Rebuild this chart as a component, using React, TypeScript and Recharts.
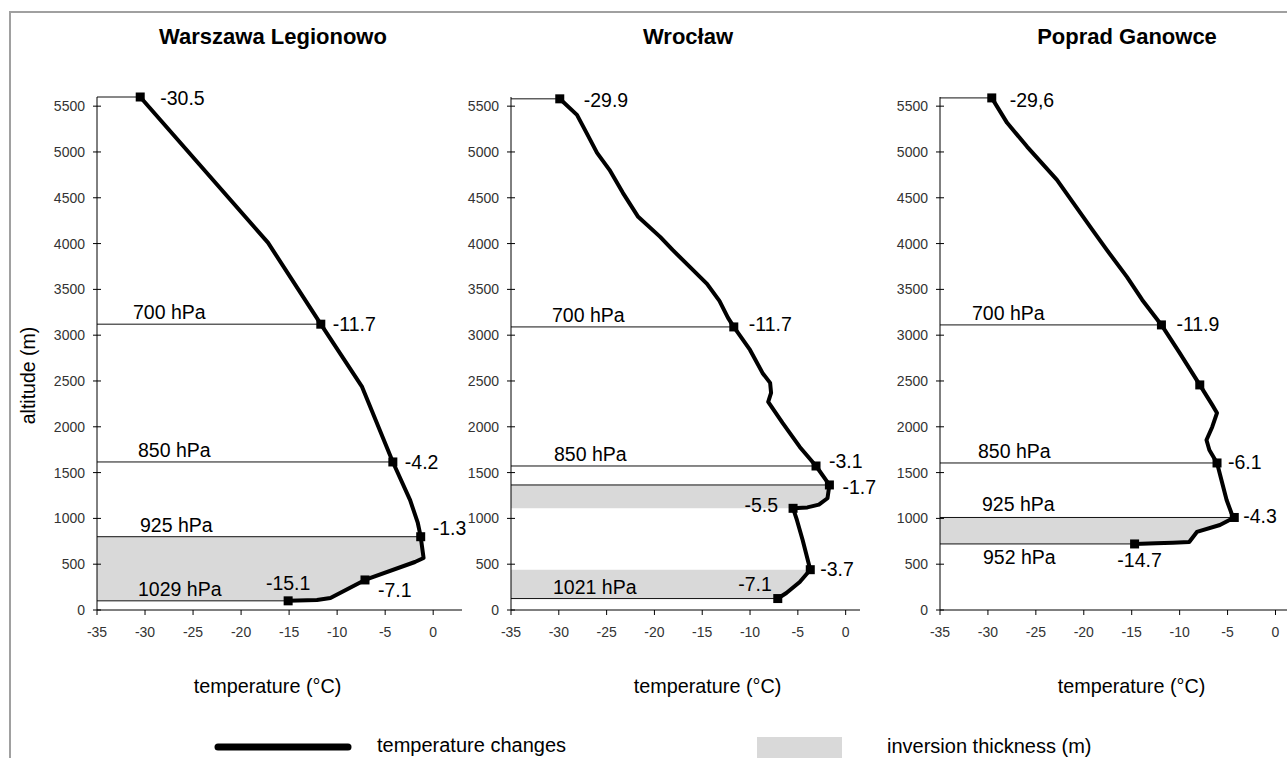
import React from "react";
import { ComposedChart, Line, Area, XAxis, YAxis, ReferenceLine } from "recharts";

const xTicks = [-35, -30, -25, -20, -15, -10, -5, 0];
const yTicks = [0, 500, 1000, 1500, 2000, 2500, 3000, 3500, 4000, 4500, 5000, 5500];

// Warszawa Legionowo
const waAlt = [5600, 4010, 3120, 2435, 1616, 1200, 950, 800, 568, 524, 328, 131, 109, 100];
const waTemp = [-30.5, -17.2, -11.7, -7.4, -4.2, -2.4, -1.6, -1.3, -1.0, -1.9, -7.1, -10.7, -12.1, -15.1];
const waMark = ["-30.5", null, "-11.7", null, "-4.2", null, null, "-1.3", null, null, "-7.1", null, null, "-15.1"];
const waBands = [[100, 800]];
const waLevelName = ["", "700 hPa", "850 hPa", "925 hPa", "1029 hPa"];
const waLevelAlt = [5600, 3120, 1616, 800, 100];
const waLevelTemp = [-30.5, -11.7, -4.2, -1.3, -15.1];

// Wrocław
const wrAlt = [5580, 5405, 5209, 4990, 4805, 4554, 4292, 4073, 3931, 3745, 3560, 3374, 3189, 3090, 2839, 2588, 2479, 2370, 2271, 2042, 1780, 1572, 1365, 1220, 1150, 1120, 1110, 983, 764, 440, 306, 186, 125];
const wrTemp = [-29.9, -28.1, -27.1, -26.0, -24.7, -23.3, -21.7, -19.4, -18.1, -16.3, -14.5, -13.2, -12.3, -11.7, -10.0, -8.7, -7.9, -7.8, -8.1, -6.6, -4.8, -3.1, -1.7, -1.9, -2.8, -4.0, -5.5, -5.1, -4.5, -3.7, -4.8, -6.2, -7.1];
const wrMark = ["-29.9", null, null, null, null, null, null, null, null, null, null, null, null, "-11.7", null, null, null, null, null, null, null, "-3.1", "-1.7", null, null, null, "-5.5", null, null, "-3.7", null, null, "-7.1"];
const wrBands = [[1110, 1365], [125, 440]];
const wrLevelName = ["", "700 hPa", "850 hPa", "", "1021 hPa"];
const wrLevelAlt = [5580, 3090, 1572, 1365, 125];
const wrLevelTemp = [-29.9, -11.7, -3.1, -1.7, -7.1];

// Poprad Ganowce
const pgAlt = [5590, 5318, 5056, 4696, 4444, 4150, 3931, 3636, 3385, 3112, 2806, 2457, 2239, 2151, 1998, 1856, 1747, 1605, 1201, 1059, 1010, 928, 852, 743, 735, 728, 721];
const pgTemp = [-29.6, -28.0, -25.9, -22.8, -21.1, -19.1, -17.6, -15.5, -13.9, -11.9, -10.0, -7.9, -6.6, -6.1, -6.6, -7.2, -6.9, -6.1, -5.1, -4.6, -4.3, -5.8, -8.2, -9.0, -10.7, -12.5, -14.7];
const pgMark = ["-29,6", null, null, null, null, null, null, null, null, "-11.9", null, "", null, null, null, null, null, "-6.1", null, null, "-4.3", null, null, null, null, null, "-14.7"];
const pgBands = [[721, 1010]];
const pgLevelName = ["", "700 hPa", "850 hPa", "925 hPa", "952 hPa"];
const pgLevelAlt = [5590, 3112, 1605, 1010, 721];
const pgLevelTemp = [-29.6, -11.9, -6.1, -4.3, -14.7];

// where the value labels sit next to their markers: [dx, dy, anchor]
const waTags: Record<number, [number, number, string]> = { 0: [20, 1, "start"], 2: [12, 0, "start"], 4: [12, 0, "start"], 7: [12, -9, "start"], 10: [13, 10, "start"], 13: [0, -18, "middle"] };
const wrTags: Record<number, [number, number, string]> = { 0: [24, 1, "start"], 13: [15, -3, "start"], 21: [13, -5, "start"], 22: [13, 2, "start"], 26: [-15, -3, "end"], 29: [10, -1, "start"], 32: [-6, -15, "end"] };
const pgTags: Record<number, [number, number, string]> = { 0: [18, 2, "start"], 9: [15, -1, "start"], 17: [11, -1, "start"], 20: [9, -1, "start"], 26: [5, 16, "middle"] };

function buildRows(alt: number[], temp: number[], mark: (string | null)[], bands: number[][]) {
  return alt.map((a, i) => ({
    alt: a,
    t: temp[i],
    mark: mark[i],
    band: bands.some(([lo, hi]) => a >= lo && a <= hi) ? temp[i] : null,
  }));
}

function buildLevels(names: string[], alts: number[], temps: number[], dx: number[], dy: number[]) {
  return names.map((n, i) => ({ name: n, alt: alts[i], t: temps[i], dx: dx[i], dy: dy[i] }));
}

const renderDot = (tags: Record<number, [number, number, string]>) => (p: any) => {
  const { cx, cy, index, payload } = p;
  if (payload.mark == null) return <g key={index} />;
  const tg = tags[index] || [12, 0, "start"];
  return (
    <g key={index}>
      <rect x={cx - 4.5} y={cy - 4.5} width={9} height={9} fill="#000" />
      {payload.mark ? (
        <text x={cx + tg[0]} y={cy + tg[1]} textAnchor={tg[2] as any} dominantBaseline="central" fontSize={19.5} fill="#000">
          {payload.mark}
        </text>
      ) : null}
    </g>
  );
};

const YTick = (p: any) => {
  const { x, y, payload } = p;
  return (
    <g>
      <line x1={x + 8} x2={x + 16} y1={y} y2={y} stroke="#000" />
      <text x={x} y={y} textAnchor="end" dominantBaseline="central" fontSize={14} fill="#333">
        {payload.value}
      </text>
    </g>
  );
};

function Panel(props: any) {
  const { left, width, yWidth, right, xMax, rows, levels, tags, xLabelDx, yLabel } = props;
  return (
    <div style={{ position: "absolute", left, top: 0 }}>
      <ComposedChart layout="vertical" width={width} height={710} data={rows} margin={{ top: 97, right, bottom: 0, left: 0 }}>
        <XAxis
          type="number"
          domain={[-35, xMax]}
          ticks={xTicks}
          height={100}
          stroke="#000"
          tickSize={5}
          tickMargin={12}
          tick={{ fontSize: 14, fill: "#333" }}
          label={{ value: "temperature (°C)", position: "insideBottom", offset: 17, dx: xLabelDx, fontSize: 19.8, fill: "#000" }}
        />
        <YAxis
          type="number"
          dataKey="alt"
          domain={[0, 5600]}
          ticks={yTicks}
          reversed
          width={yWidth}
          stroke="#000"
          tickSize={4}
          tickMargin={8}
          tickLine={false}
          tick={<YTick />}
          label={
            yLabel
              ? {
                  content: (lp: any) => {
                    const vb = lp.viewBox || { x: 0, y: 97, height: 513 };
                    const cx = vb.x + 28;
                    const cy = vb.y + vb.height / 2 + 22;
                    return (
                      <text x={cx} y={cy} transform={`rotate(-90 ${cx} ${cy})`} textAnchor="middle" dominantBaseline="central" fontSize={19.5} fill="#000">
                        altitude (m)
                      </text>
                    );
                  },
                }
              : undefined
          }
        />
        <Area dataKey="band" baseValue="dataMin" fill="#d9d9d9" fillOpacity={1} stroke="none" dot={false} activeDot={false} isAnimationActive={false} />
        {levels.map((lv: any, i: number) => (
          <ReferenceLine
            key={i}
            segment={[{ x: -35, y: lv.alt }, { x: lv.t, y: lv.alt }]}
            stroke="#111"
            strokeWidth={1}
            label={
              lv.name
                ? (lp: any) => {
                    const vb = lp.viewBox || { x: 0, y: 0 };
                    return (
                      <text x={vb.x + lv.dx} y={vb.y + lv.dy} dominantBaseline="central" fontSize={19.5} fill="#000">
                        {lv.name}
                      </text>
                    );
                  }
                : undefined
            }
          />
        ))}
        <Line dataKey="t" type="linear" stroke="#000" strokeWidth={4} strokeLinejoin="round" dot={renderDot(tags)} activeDot={false} isAnimationActive={false} />
      </ComposedChart>
    </div>
  );
}

const titleStyle: React.CSSProperties = { position: "absolute", top: 27, width: 400, textAlign: "center", fontWeight: "bold", fontSize: 22, lineHeight: "20px" };

export default function App() {
  const waRows = buildRows(waAlt, waTemp, waMark, waBands);
  const wrRows = buildRows(wrAlt, wrTemp, wrMark, wrBands);
  const pgRows = buildRows(pgAlt, pgTemp, pgMark, pgBands);
  const waLevels = buildLevels(waLevelName, waLevelAlt, waLevelTemp, [0, 36, 41, 43, 41], [0, -12, -12, -12, -12]);
  const wrLevels = buildLevels(wrLevelName, wrLevelAlt, wrLevelTemp, [0, 41, 43, 0, 42], [0, -12, -12, 0, -12]);
  const pgLevels = buildLevels(pgLevelName, pgLevelAlt, pgLevelTemp, [0, 32, 38, 42, 43], [0, -12, -12, -13, 13]);

  return (
    <div style={{ position: "absolute", left: 0, top: 0, width: 1287, height: 758, overflow: "hidden", background: "#fff", fontFamily: "'Liberation Sans', Arial, sans-serif", color: "#000" }}>
      <div style={{ position: "absolute", left: 9, top: 11, width: 1320, height: 800, border: "2px solid #a0a0a0" }} />
      <div style={{ ...titleStyle, left: 273 - 200 }}>Warszawa Legionowo</div>
      <div style={{ ...titleStyle, left: 688 - 200 }}>Wrocław</div>
      <div style={{ ...titleStyle, left: 1127 - 200 }}>Poprad Ganowce</div>

      <Panel left={0} width={475} yWidth={97} right={13} xMax={3} rows={waRows} levels={waLevels} tags={waTags} xLabelDx={-12} yLabel />
      <Panel left={451} width={434} yWidth={60} right={25} xMax={1.5} rows={wrRows} levels={wrLevels} tags={wrTags} xLabelDx={22} />
      <Panel left={880} width={407} yWidth={60} right={0} xMax={1.2} rows={pgRows} levels={pgLevels} tags={pgTags} xLabelDx={18} />

      <svg style={{ position: "absolute", left: 0, top: 720 }} width={1287} height={38}>
        <line x1={218} x2={348} y1={27} y2={27} stroke="#000" strokeWidth={7} strokeLinecap="round" />
        <text x={377} y={32} fontSize={20} fill="#000">temperature changes</text>
        <rect x={757} y={17} width={85} height={21} fill="#d9d9d9" />
        <text x={887} y={33} fontSize={20} fill="#000">inversion thickness (m)</text>
      </svg>
    </div>
  );
}
